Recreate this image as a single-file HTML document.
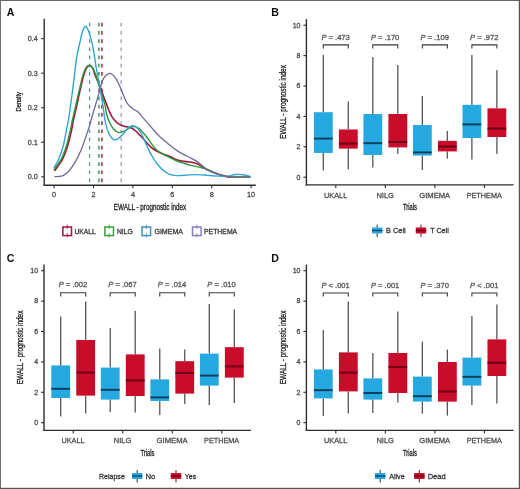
<!DOCTYPE html>
<html><head><meta charset="utf-8"><title>EWALL figure</title>
<style>
html,body{margin:0;padding:0;background:#fff;}
body{width:520px;height:489px;overflow:hidden;}
svg{display:block;font-family:"Liberation Sans",sans-serif;}
</style></head>
<body>
<svg width="520" height="489" viewBox="0 0 520 489">
<defs><filter id="bl" x="-5%" y="-5%" width="110%" height="110%"><feGaussianBlur stdDeviation="0.35"/></filter></defs>
<rect x="0" y="0" width="520" height="489" fill="#fff"/>
<g filter="url(#bl)">
<text x="6.8" y="15.8" font-size="10.6" font-weight="bold" fill="#111">A</text>
<text x="271.2" y="15.9" font-size="10.6" font-weight="bold" fill="#111">B</text>
<text x="6.8" y="261.6" font-size="10.6" font-weight="bold" fill="#111">C</text>
<text x="271.2" y="261.6" font-size="10.6" font-weight="bold" fill="#111">D</text>
<line x1="89.60" y1="22.80" x2="89.60" y2="184.20" stroke="#3f7fa8" stroke-width="1.2" stroke-dasharray="3.7,4.5" opacity="0.9"/>
<line x1="98.90" y1="22.80" x2="98.90" y2="184.20" stroke="#5f9766" stroke-width="1.8" stroke-dasharray="3.7,4.5" opacity="0.9"/>
<line x1="101.90" y1="22.80" x2="101.90" y2="184.20" stroke="#a03c4c" stroke-width="1.8" stroke-dasharray="3.7,4.5" opacity="0.9"/>
<line x1="121.20" y1="22.80" x2="121.20" y2="184.20" stroke="#a39cb4" stroke-width="1.5" stroke-dasharray="3.7,4.5" opacity="0.9"/>
<path d="M54.40,170.90 C55.73,168.97 60.25,163.28 62.40,159.30 C64.55,155.32 65.77,151.92 67.30,147.00 C68.83,142.08 70.58,134.30 71.60,129.80 C72.62,125.30 72.63,123.63 73.40,120.00 C74.17,116.37 75.10,112.92 76.20,108.00 C77.30,103.08 78.77,95.92 80.00,90.50 C81.23,85.08 82.50,79.28 83.60,75.50 C84.70,71.72 85.62,69.47 86.60,67.80 C87.58,66.13 88.50,65.50 89.50,65.50 C90.50,65.50 91.70,66.27 92.60,67.80 C93.50,69.33 93.70,71.70 94.90,74.70 C96.10,77.70 98.42,82.33 99.80,85.80 C101.18,89.27 102.08,92.47 103.20,95.50 C104.32,98.53 105.55,101.50 106.50,104.00 C107.45,106.50 107.95,108.32 108.90,110.50 C109.85,112.68 110.97,115.18 112.20,117.10 C113.43,119.02 114.93,120.70 116.30,122.00 C117.67,123.30 118.90,124.15 120.40,124.90 C121.90,125.65 123.45,125.98 125.30,126.50 C127.15,127.02 129.77,127.25 131.50,128.00 C133.23,128.75 134.38,129.88 135.70,131.00 C137.02,132.12 138.18,133.47 139.40,134.70 C140.62,135.93 141.78,137.05 143.00,138.40 C144.22,139.75 145.47,141.45 146.70,142.80 C147.93,144.15 149.17,145.38 150.40,146.50 C151.63,147.62 152.57,148.48 154.10,149.50 C155.63,150.52 157.87,151.75 159.60,152.60 C161.33,153.45 162.77,153.93 164.50,154.60 C166.23,155.27 167.90,155.70 170.00,156.60 C172.10,157.50 174.70,159.20 177.10,160.00 C179.50,160.80 181.95,161.03 184.40,161.40 C186.85,161.77 189.33,161.65 191.80,162.20 C194.27,162.75 196.75,163.53 199.20,164.70 C201.65,165.87 203.73,167.77 206.50,169.20 C209.27,170.63 212.72,172.15 215.80,173.30 C218.88,174.45 222.47,175.47 225.00,176.10 C227.53,176.73 228.33,176.92 231.00,177.10 C233.67,177.28 237.77,177.22 241.00,177.20 C244.23,177.18 248.83,177.03 250.40,177.00" fill="none" stroke="#a0143a" stroke-width="1.6" stroke-linejoin="round"/>
<path d="M53.80,169.70 C55.03,167.97 59.15,163.08 61.20,159.30 C63.25,155.52 64.57,151.92 66.10,147.00 C67.63,142.08 69.35,134.30 70.40,129.80 C71.45,125.30 71.60,123.63 72.40,120.00 C73.20,116.37 74.07,112.92 75.20,108.00 C76.33,103.08 77.90,96.00 79.20,90.50 C80.50,85.00 81.83,78.83 83.00,75.00 C84.17,71.17 85.17,69.12 86.20,67.50 C87.23,65.88 88.18,65.30 89.20,65.30 C90.22,65.30 91.25,66.05 92.30,67.50 C93.35,68.95 94.47,71.25 95.50,74.00 C96.53,76.75 97.42,80.33 98.50,84.00 C99.58,87.67 100.95,92.67 102.00,96.00 C103.05,99.33 104.05,101.03 104.80,104.00 C105.55,106.97 105.68,110.67 106.50,113.80 C107.32,116.93 108.48,120.22 109.70,122.80 C110.92,125.38 112.30,127.67 113.80,129.30 C115.30,130.93 117.07,132.25 118.70,132.60 C120.33,132.95 121.97,132.08 123.60,131.40 C125.23,130.72 126.93,129.30 128.50,128.50 C130.07,127.70 131.32,126.67 133.00,126.60 C134.68,126.53 136.93,127.12 138.60,128.10 C140.27,129.08 141.65,131.02 143.00,132.50 C144.35,133.98 145.47,135.40 146.70,137.00 C147.93,138.60 149.17,140.40 150.40,142.10 C151.63,143.80 153.00,145.85 154.10,147.20 C155.20,148.55 155.80,149.23 157.00,150.20 C158.20,151.17 159.93,152.15 161.30,153.00 C162.67,153.85 163.75,154.53 165.20,155.30 C166.65,156.07 168.02,156.65 170.00,157.60 C171.98,158.55 174.70,160.02 177.10,161.00 C179.50,161.98 181.95,162.73 184.40,163.50 C186.85,164.27 189.33,165.00 191.80,165.60 C194.27,166.20 196.75,166.50 199.20,167.10 C201.65,167.70 203.73,168.17 206.50,169.20 C209.27,170.23 212.72,172.15 215.80,173.30 C218.88,174.45 222.47,175.47 225.00,176.10 C227.53,176.73 228.33,176.92 231.00,177.10 C233.67,177.28 237.77,177.22 241.00,177.20 C244.23,177.18 248.83,177.03 250.40,177.00" fill="none" stroke="#309439" stroke-width="1.4" stroke-linejoin="round"/>
<path d="M53.80,168.10 C54.62,166.63 57.07,163.23 58.70,159.30 C60.33,155.37 62.25,149.72 63.60,144.50 C64.95,139.28 65.93,132.42 66.80,128.00 C67.67,123.58 67.93,123.50 68.80,118.00 C69.67,112.50 71.05,102.17 72.00,95.00 C72.95,87.83 73.78,80.83 74.50,75.00 C75.22,69.17 75.73,63.98 76.30,60.00 C76.87,56.02 77.28,54.08 77.90,51.10 C78.52,48.12 79.32,45.10 80.00,42.10 C80.68,39.10 81.18,35.68 82.00,33.10 C82.82,30.52 84.07,27.48 84.90,26.60 C85.73,25.72 86.32,26.85 87.00,27.80 C87.68,28.75 88.33,30.45 89.00,32.30 C89.67,34.15 90.32,36.30 91.00,38.90 C91.68,41.50 92.48,44.77 93.10,47.90 C93.72,51.03 94.12,54.02 94.70,57.70 C95.28,61.38 95.95,66.13 96.60,70.00 C97.25,73.87 97.65,75.62 98.60,80.90 C99.55,86.18 101.27,95.40 102.30,101.70 C103.33,108.00 104.10,114.50 104.80,118.70 C105.50,122.90 105.68,124.17 106.50,126.90 C107.32,129.63 108.48,132.98 109.70,135.10 C110.92,137.22 112.43,138.98 113.80,139.60 C115.17,140.22 116.40,139.68 117.90,138.80 C119.40,137.92 121.17,136.02 122.80,134.30 C124.43,132.58 126.20,129.93 127.70,128.50 C129.20,127.07 130.47,126.02 131.80,125.70 C133.13,125.38 134.57,125.95 135.70,126.60 C136.83,127.25 137.75,128.62 138.60,129.60 C139.45,130.58 140.07,131.27 140.80,132.50 C141.53,133.73 142.25,135.40 143.00,137.00 C143.75,138.60 144.55,140.40 145.30,142.10 C146.05,143.80 146.77,145.60 147.50,147.20 C148.23,148.80 148.90,150.15 149.70,151.70 C150.50,153.25 151.18,154.62 152.30,156.50 C153.42,158.38 154.90,161.00 156.40,163.00 C157.90,165.00 159.90,167.08 161.30,168.50 C162.70,169.92 163.42,170.52 164.80,171.50 C166.18,172.48 168.00,173.75 169.60,174.40 C171.20,175.05 172.80,175.20 174.40,175.40 C176.00,175.60 176.80,175.68 179.20,175.60 C181.60,175.52 185.58,175.07 188.80,174.90 C192.02,174.73 195.30,174.52 198.50,174.60 C201.70,174.68 204.75,175.15 208.00,175.40 C211.25,175.65 215.17,175.93 218.00,176.10 C220.83,176.27 223.07,176.43 225.00,176.40 C226.93,176.37 227.87,176.22 229.60,175.90 C231.33,175.58 233.10,174.68 235.40,174.50 C237.70,174.32 240.90,174.45 243.40,174.80 C245.90,175.15 249.23,176.30 250.40,176.60" fill="none" stroke="#31a4d8" stroke-width="1.4" stroke-linejoin="round"/>
<path d="M54.40,176.70 C55.73,176.55 60.05,176.67 62.40,175.80 C64.75,174.93 66.45,173.65 68.50,171.50 C70.55,169.35 72.65,166.37 74.70,162.90 C76.75,159.43 78.97,154.98 80.80,150.70 C82.63,146.42 84.27,141.30 85.70,137.20 C87.13,133.10 88.38,129.35 89.40,126.10 C90.42,122.85 90.98,120.55 91.80,117.70 C92.62,114.85 93.17,112.88 94.30,109.00 C95.43,105.12 97.27,99.08 98.60,94.40 C99.93,89.72 101.15,83.97 102.30,80.90 C103.45,77.83 104.28,77.27 105.50,76.00 C106.72,74.73 108.38,73.47 109.60,73.30 C110.82,73.13 111.77,74.15 112.80,75.00 C113.83,75.85 114.48,76.20 115.80,78.40 C117.12,80.60 119.07,84.52 120.70,88.20 C122.33,91.88 124.30,97.73 125.60,100.50 C126.90,103.27 127.60,103.67 128.50,104.80 C129.40,105.93 130.08,106.48 131.00,107.30 C131.92,108.12 132.85,108.95 134.00,109.70 C135.15,110.45 136.20,110.22 137.90,111.80 C139.60,113.38 141.72,116.33 144.20,119.20 C146.68,122.07 150.25,126.13 152.80,129.00 C155.35,131.87 157.90,134.75 159.50,136.40 C161.10,138.05 160.70,137.47 162.40,138.90 C164.10,140.33 167.25,143.05 169.70,145.00 C172.15,146.95 174.65,148.95 177.10,150.60 C179.55,152.25 181.95,153.57 184.40,154.90 C186.85,156.23 189.33,157.27 191.80,158.60 C194.27,159.93 196.75,161.10 199.20,162.90 C201.65,164.70 203.73,167.62 206.50,169.40 C209.27,171.18 212.72,172.47 215.80,173.60 C218.88,174.73 222.47,175.62 225.00,176.20 C227.53,176.78 228.33,176.93 231.00,177.10 C233.67,177.27 237.77,177.22 241.00,177.20 C244.23,177.18 248.83,177.03 250.40,177.00" fill="none" stroke="#6f6a9c" stroke-width="1.3" stroke-linejoin="round"/>
<line x1="44.20" y1="18.80" x2="44.20" y2="185.80" stroke="#2e2e2e" stroke-width="1.4"/>
<line x1="43.60" y1="185.20" x2="255.80" y2="185.20" stroke="#2e2e2e" stroke-width="1.4"/>
<line x1="41.20" y1="176.80" x2="44.20" y2="176.80" stroke="#2e2e2e" stroke-width="1.1"/>
<text x="37.80" y="179.40" font-size="7.4" fill="#4a4a4a" stroke="#4a4a4a" stroke-width="0.28" text-anchor="end" textLength="10.00" lengthAdjust="spacingAndGlyphs">0.0</text>
<line x1="41.20" y1="142.25" x2="44.20" y2="142.25" stroke="#2e2e2e" stroke-width="1.1"/>
<text x="37.80" y="144.85" font-size="7.4" fill="#4a4a4a" stroke="#4a4a4a" stroke-width="0.28" text-anchor="end" textLength="10.00" lengthAdjust="spacingAndGlyphs">0.1</text>
<line x1="41.20" y1="107.70" x2="44.20" y2="107.70" stroke="#2e2e2e" stroke-width="1.1"/>
<text x="37.80" y="110.30" font-size="7.4" fill="#4a4a4a" stroke="#4a4a4a" stroke-width="0.28" text-anchor="end" textLength="10.00" lengthAdjust="spacingAndGlyphs">0.2</text>
<line x1="41.20" y1="73.15" x2="44.20" y2="73.15" stroke="#2e2e2e" stroke-width="1.1"/>
<text x="37.80" y="75.75" font-size="7.4" fill="#4a4a4a" stroke="#4a4a4a" stroke-width="0.28" text-anchor="end" textLength="10.00" lengthAdjust="spacingAndGlyphs">0.3</text>
<line x1="41.20" y1="38.60" x2="44.20" y2="38.60" stroke="#2e2e2e" stroke-width="1.1"/>
<text x="37.80" y="41.20" font-size="7.4" fill="#4a4a4a" stroke="#4a4a4a" stroke-width="0.28" text-anchor="end" textLength="10.00" lengthAdjust="spacingAndGlyphs">0.4</text>
<line x1="54.10" y1="185.20" x2="54.10" y2="188.20" stroke="#2e2e2e" stroke-width="1.1"/>
<text x="54.10" y="197.40" font-size="7.8" fill="#4a4a4a" stroke="#4a4a4a" stroke-width="0.28" text-anchor="middle" textLength="4.03" lengthAdjust="spacingAndGlyphs">0</text>
<line x1="93.50" y1="185.20" x2="93.50" y2="188.20" stroke="#2e2e2e" stroke-width="1.1"/>
<text x="93.50" y="197.40" font-size="7.8" fill="#4a4a4a" stroke="#4a4a4a" stroke-width="0.28" text-anchor="middle" textLength="4.03" lengthAdjust="spacingAndGlyphs">2</text>
<line x1="132.90" y1="185.20" x2="132.90" y2="188.20" stroke="#2e2e2e" stroke-width="1.1"/>
<text x="132.90" y="197.40" font-size="7.8" fill="#4a4a4a" stroke="#4a4a4a" stroke-width="0.28" text-anchor="middle" textLength="4.03" lengthAdjust="spacingAndGlyphs">4</text>
<line x1="172.30" y1="185.20" x2="172.30" y2="188.20" stroke="#2e2e2e" stroke-width="1.1"/>
<text x="172.30" y="197.40" font-size="7.8" fill="#4a4a4a" stroke="#4a4a4a" stroke-width="0.28" text-anchor="middle" textLength="4.03" lengthAdjust="spacingAndGlyphs">6</text>
<line x1="211.70" y1="185.20" x2="211.70" y2="188.20" stroke="#2e2e2e" stroke-width="1.1"/>
<text x="211.70" y="197.40" font-size="7.8" fill="#4a4a4a" stroke="#4a4a4a" stroke-width="0.28" text-anchor="middle" textLength="4.03" lengthAdjust="spacingAndGlyphs">8</text>
<line x1="251.10" y1="185.20" x2="251.10" y2="188.20" stroke="#2e2e2e" stroke-width="1.1"/>
<text x="251.10" y="197.40" font-size="7.8" fill="#4a4a4a" stroke="#4a4a4a" stroke-width="0.28" text-anchor="middle" textLength="8.07" lengthAdjust="spacingAndGlyphs">10</text>
<text x="150.00" y="210.30" font-size="8.5" fill="#1a1a1a" stroke="#1a1a1a" stroke-width="0.28" text-anchor="middle" textLength="72.40" lengthAdjust="spacingAndGlyphs">EWALL - prognostic index</text>
<text transform="translate(21.4,101.8) rotate(-90)" x="0" y="0" font-size="7.2" fill="#1a1a1a" stroke="#1a1a1a" stroke-width="0.28" text-anchor="middle" textLength="19.6" lengthAdjust="spacingAndGlyphs">Density</text>
<rect x="62.90" y="227.0" width="8.6" height="8.6" fill="none" stroke="#a8123c" stroke-width="1.5"/>
<line x1="67.20" y1="224.60" x2="67.20" y2="237.40" stroke="#a8123c" stroke-width="1.0" stroke-dasharray="4.4,4.2,6" opacity="0.85"/>
<text x="74.40" y="233.70" font-size="7.4" fill="#333" stroke="#333" stroke-width="0.28" text-anchor="start" textLength="21.30" lengthAdjust="spacingAndGlyphs">UKALL</text>
<rect x="104.90" y="227.0" width="8.6" height="8.6" fill="none" stroke="#3a9e3e" stroke-width="1.5"/>
<line x1="109.20" y1="224.60" x2="109.20" y2="237.40" stroke="#3a9e3e" stroke-width="1.0" stroke-dasharray="4.4,4.2,6" opacity="0.85"/>
<text x="116.90" y="233.70" font-size="7.4" fill="#333" stroke="#333" stroke-width="0.28" text-anchor="start" textLength="15.80" lengthAdjust="spacingAndGlyphs">NILG</text>
<rect x="142.00" y="227.0" width="8.6" height="8.6" fill="none" stroke="#3a93c0" stroke-width="1.5"/>
<line x1="146.30" y1="224.60" x2="146.30" y2="237.40" stroke="#3a93c0" stroke-width="1.0" stroke-dasharray="4.4,4.2,6" opacity="0.85"/>
<text x="154.40" y="233.70" font-size="7.4" fill="#333" stroke="#333" stroke-width="0.28" text-anchor="start" textLength="28.70" lengthAdjust="spacingAndGlyphs">GIMEMA</text>
<rect x="192.50" y="227.0" width="8.6" height="8.6" fill="none" stroke="#8a80c0" stroke-width="1.5"/>
<line x1="196.80" y1="224.60" x2="196.80" y2="237.40" stroke="#8a80c0" stroke-width="1.0" stroke-dasharray="4.4,4.2,6" opacity="0.85"/>
<text x="204.00" y="233.70" font-size="7.4" fill="#333" stroke="#333" stroke-width="0.28" text-anchor="start" textLength="33.20" lengthAdjust="spacingAndGlyphs">PETHEMA</text>
<line x1="323.30" y1="55.00" x2="323.30" y2="112.20" stroke="#555555" stroke-width="1.3"/>
<line x1="323.30" y1="153.00" x2="323.30" y2="170.40" stroke="#555555" stroke-width="1.3"/>
<rect x="313.90" y="112.20" width="18.8" height="40.80" fill="#28a8e0"/>
<line x1="313.90" y1="138.60" x2="332.70" y2="138.60" stroke="#0b3d5c" stroke-width="1.9"/>
<line x1="348.30" y1="101.60" x2="348.30" y2="129.50" stroke="#555555" stroke-width="1.3"/>
<line x1="348.30" y1="148.60" x2="348.30" y2="169.60" stroke="#555555" stroke-width="1.3"/>
<rect x="338.90" y="129.50" width="18.8" height="19.10" fill="#c8082a"/>
<line x1="338.90" y1="143.60" x2="357.70" y2="143.60" stroke="#6e0414" stroke-width="1.9"/>
<path d="M323.30,48.50 V44.90 H348.30 V48.50" fill="none" stroke="#3a3a3a" stroke-width="1.1"/>
<text x="335.60" y="40.40" font-size="7.0" fill="#555" stroke="#555" stroke-width="0.28" text-anchor="middle" textLength="28.4" lengthAdjust="spacingAndGlyphs"><tspan font-style="italic">P</tspan> = .473</text>
<line x1="372.83" y1="57.00" x2="372.83" y2="114.00" stroke="#555555" stroke-width="1.3"/>
<line x1="372.83" y1="155.00" x2="372.83" y2="167.60" stroke="#555555" stroke-width="1.3"/>
<rect x="363.43" y="114.00" width="18.8" height="41.00" fill="#28a8e0"/>
<line x1="363.43" y1="143.20" x2="382.23" y2="143.20" stroke="#0b3d5c" stroke-width="1.9"/>
<line x1="397.83" y1="65.00" x2="397.83" y2="114.00" stroke="#555555" stroke-width="1.3"/>
<line x1="397.83" y1="147.40" x2="397.83" y2="154.00" stroke="#555555" stroke-width="1.3"/>
<rect x="388.43" y="114.00" width="18.8" height="33.40" fill="#c8082a"/>
<line x1="388.43" y1="142.00" x2="407.23" y2="142.00" stroke="#6e0414" stroke-width="1.9"/>
<path d="M372.83,48.50 V44.90 H397.83 V48.50" fill="none" stroke="#3a3a3a" stroke-width="1.1"/>
<text x="385.13" y="40.40" font-size="7.0" fill="#555" stroke="#555" stroke-width="0.28" text-anchor="middle" textLength="28.4" lengthAdjust="spacingAndGlyphs"><tspan font-style="italic">P</tspan> = .170</text>
<line x1="422.36" y1="96.00" x2="422.36" y2="125.00" stroke="#555555" stroke-width="1.3"/>
<line x1="422.36" y1="155.60" x2="422.36" y2="170.00" stroke="#555555" stroke-width="1.3"/>
<rect x="412.96" y="125.00" width="18.8" height="30.60" fill="#28a8e0"/>
<line x1="412.96" y1="152.40" x2="431.76" y2="152.40" stroke="#0b3d5c" stroke-width="1.9"/>
<line x1="447.36" y1="131.00" x2="447.36" y2="140.80" stroke="#555555" stroke-width="1.3"/>
<line x1="447.36" y1="151.40" x2="447.36" y2="158.60" stroke="#555555" stroke-width="1.3"/>
<rect x="437.96" y="140.80" width="18.8" height="10.60" fill="#c8082a"/>
<line x1="437.96" y1="146.40" x2="456.76" y2="146.40" stroke="#6e0414" stroke-width="1.9"/>
<path d="M422.36,48.50 V44.90 H447.36 V48.50" fill="none" stroke="#3a3a3a" stroke-width="1.1"/>
<text x="434.66" y="40.40" font-size="7.0" fill="#555" stroke="#555" stroke-width="0.28" text-anchor="middle" textLength="28.4" lengthAdjust="spacingAndGlyphs"><tspan font-style="italic">P</tspan> = .109</text>
<line x1="471.89" y1="55.00" x2="471.89" y2="104.80" stroke="#555555" stroke-width="1.3"/>
<line x1="471.89" y1="138.00" x2="471.89" y2="159.60" stroke="#555555" stroke-width="1.3"/>
<rect x="462.49" y="104.80" width="18.8" height="33.20" fill="#28a8e0"/>
<line x1="462.49" y1="124.40" x2="481.29" y2="124.40" stroke="#0b3d5c" stroke-width="1.9"/>
<line x1="496.89" y1="70.00" x2="496.89" y2="108.40" stroke="#555555" stroke-width="1.3"/>
<line x1="496.89" y1="137.00" x2="496.89" y2="154.00" stroke="#555555" stroke-width="1.3"/>
<rect x="487.49" y="108.40" width="18.8" height="28.60" fill="#c8082a"/>
<line x1="487.49" y1="128.60" x2="506.29" y2="128.60" stroke="#6e0414" stroke-width="1.9"/>
<path d="M471.89,48.50 V44.90 H496.89 V48.50" fill="none" stroke="#3a3a3a" stroke-width="1.1"/>
<text x="484.19" y="40.40" font-size="7.0" fill="#555" stroke="#555" stroke-width="0.28" text-anchor="middle" textLength="28.4" lengthAdjust="spacingAndGlyphs"><tspan font-style="italic">P</tspan> = .972</text>
<line x1="306.40" y1="19.10" x2="306.40" y2="185.50" stroke="#2e2e2e" stroke-width="1.4"/>
<line x1="305.80" y1="184.90" x2="513.60" y2="184.90" stroke="#2e2e2e" stroke-width="1.4"/>
<line x1="303.40" y1="177.20" x2="306.40" y2="177.20" stroke="#2e2e2e" stroke-width="1.1"/>
<text x="300.50" y="179.50" font-size="7.4" fill="#4a4a4a" stroke="#4a4a4a" stroke-width="0.28" text-anchor="end" textLength="3.91" lengthAdjust="spacingAndGlyphs">0</text>
<line x1="303.40" y1="146.80" x2="306.40" y2="146.80" stroke="#2e2e2e" stroke-width="1.1"/>
<text x="300.50" y="149.10" font-size="7.4" fill="#4a4a4a" stroke="#4a4a4a" stroke-width="0.28" text-anchor="end" textLength="3.91" lengthAdjust="spacingAndGlyphs">2</text>
<line x1="303.40" y1="116.40" x2="306.40" y2="116.40" stroke="#2e2e2e" stroke-width="1.1"/>
<text x="300.50" y="118.70" font-size="7.4" fill="#4a4a4a" stroke="#4a4a4a" stroke-width="0.28" text-anchor="end" textLength="3.91" lengthAdjust="spacingAndGlyphs">4</text>
<line x1="303.40" y1="86.00" x2="306.40" y2="86.00" stroke="#2e2e2e" stroke-width="1.1"/>
<text x="300.50" y="88.30" font-size="7.4" fill="#4a4a4a" stroke="#4a4a4a" stroke-width="0.28" text-anchor="end" textLength="3.91" lengthAdjust="spacingAndGlyphs">6</text>
<line x1="303.40" y1="55.60" x2="306.40" y2="55.60" stroke="#2e2e2e" stroke-width="1.1"/>
<text x="300.50" y="57.90" font-size="7.4" fill="#4a4a4a" stroke="#4a4a4a" stroke-width="0.28" text-anchor="end" textLength="3.91" lengthAdjust="spacingAndGlyphs">8</text>
<line x1="303.40" y1="25.20" x2="306.40" y2="25.20" stroke="#2e2e2e" stroke-width="1.1"/>
<text x="300.50" y="27.50" font-size="7.4" fill="#4a4a4a" stroke="#4a4a4a" stroke-width="0.28" text-anchor="end" textLength="7.82" lengthAdjust="spacingAndGlyphs">10</text>
<line x1="335.80" y1="184.90" x2="335.80" y2="187.90" stroke="#2e2e2e" stroke-width="1.1"/>
<text x="335.65" y="197.80" font-size="8.0" fill="#4a4a4a" stroke="#4a4a4a" stroke-width="0.28" text-anchor="middle" textLength="23.10" lengthAdjust="spacingAndGlyphs">UKALL</text>
<line x1="385.33" y1="184.90" x2="385.33" y2="187.90" stroke="#2e2e2e" stroke-width="1.1"/>
<text x="385.18" y="197.80" font-size="8.0" fill="#4a4a4a" stroke="#4a4a4a" stroke-width="0.28" text-anchor="middle" textLength="17.50" lengthAdjust="spacingAndGlyphs">NILG</text>
<line x1="434.86" y1="184.90" x2="434.86" y2="187.90" stroke="#2e2e2e" stroke-width="1.1"/>
<text x="434.71" y="197.80" font-size="8.0" fill="#4a4a4a" stroke="#4a4a4a" stroke-width="0.28" text-anchor="middle" textLength="31.00" lengthAdjust="spacingAndGlyphs">GIMEMA</text>
<line x1="484.39" y1="184.90" x2="484.39" y2="187.90" stroke="#2e2e2e" stroke-width="1.1"/>
<text x="484.24" y="197.80" font-size="8.0" fill="#4a4a4a" stroke="#4a4a4a" stroke-width="0.28" text-anchor="middle" textLength="35.10" lengthAdjust="spacingAndGlyphs">PETHEMA</text>
<text x="410.00" y="210.20" font-size="8.5" fill="#1a1a1a" stroke="#1a1a1a" stroke-width="0.28" text-anchor="middle" textLength="14.00" lengthAdjust="spacingAndGlyphs">Trials</text>
<text transform="translate(286.00,101.90) rotate(-90)" x="0" y="0" font-size="8.5" fill="#1a1a1a" stroke="#1a1a1a" stroke-width="0.28" text-anchor="middle" textLength="73.5" lengthAdjust="spacingAndGlyphs">EWALL - prognostic index</text>
<line x1="377.20" y1="224.60" x2="377.20" y2="237.00" stroke="#555555" stroke-width="1.2"/>
<rect x="372.00" y="227.50" width="10.4" height="6.0" fill="#28a8e0"/>
<line x1="372.00" y1="230.50" x2="382.40" y2="230.50" stroke="#0b3d5c" stroke-width="1.3"/>
<text x="386.00" y="233.40" font-size="7.6" fill="#333" stroke="#333" stroke-width="0.28" text-anchor="start" textLength="19.70" lengthAdjust="spacingAndGlyphs">B Cell</text>
<line x1="421.00" y1="224.60" x2="421.00" y2="237.00" stroke="#555555" stroke-width="1.2"/>
<rect x="415.80" y="227.50" width="10.4" height="6.0" fill="#c8082a"/>
<line x1="415.80" y1="230.50" x2="426.20" y2="230.50" stroke="#6e0414" stroke-width="1.3"/>
<text x="430.20" y="233.40" font-size="7.6" fill="#333" stroke="#333" stroke-width="0.28" text-anchor="start" textLength="18.60" lengthAdjust="spacingAndGlyphs">T Cell</text>
<line x1="60.70" y1="316.60" x2="60.70" y2="365.40" stroke="#555555" stroke-width="1.3"/>
<line x1="60.70" y1="398.00" x2="60.70" y2="416.60" stroke="#555555" stroke-width="1.3"/>
<rect x="51.30" y="365.40" width="18.8" height="32.60" fill="#28a8e0"/>
<line x1="51.30" y1="388.80" x2="70.10" y2="388.80" stroke="#0b3d5c" stroke-width="1.9"/>
<line x1="85.70" y1="301.60" x2="85.70" y2="340.00" stroke="#555555" stroke-width="1.3"/>
<line x1="85.70" y1="395.60" x2="85.70" y2="413.60" stroke="#555555" stroke-width="1.3"/>
<rect x="76.30" y="340.00" width="18.8" height="55.60" fill="#c8082a"/>
<line x1="76.30" y1="372.60" x2="95.10" y2="372.60" stroke="#6e0414" stroke-width="1.9"/>
<path d="M60.70,296.40 V292.80 H85.70 V296.40" fill="none" stroke="#3a3a3a" stroke-width="1.1"/>
<text x="73.00" y="287.40" font-size="7.0" fill="#555" stroke="#555" stroke-width="0.28" text-anchor="middle" textLength="28.4" lengthAdjust="spacingAndGlyphs"><tspan font-style="italic">P</tspan> = .002</text>
<line x1="110.23" y1="328.00" x2="110.23" y2="367.60" stroke="#555555" stroke-width="1.3"/>
<line x1="110.23" y1="399.60" x2="110.23" y2="412.00" stroke="#555555" stroke-width="1.3"/>
<rect x="100.83" y="367.60" width="18.8" height="32.00" fill="#28a8e0"/>
<line x1="100.83" y1="389.80" x2="119.63" y2="389.80" stroke="#0b3d5c" stroke-width="1.9"/>
<line x1="135.23" y1="311.00" x2="135.23" y2="354.40" stroke="#555555" stroke-width="1.3"/>
<line x1="135.23" y1="396.00" x2="135.23" y2="412.40" stroke="#555555" stroke-width="1.3"/>
<rect x="125.83" y="354.40" width="18.8" height="41.60" fill="#c8082a"/>
<line x1="125.83" y1="380.40" x2="144.63" y2="380.40" stroke="#6e0414" stroke-width="1.9"/>
<path d="M110.23,296.40 V292.80 H135.23 V296.40" fill="none" stroke="#3a3a3a" stroke-width="1.1"/>
<text x="122.53" y="287.40" font-size="7.0" fill="#555" stroke="#555" stroke-width="0.28" text-anchor="middle" textLength="28.4" lengthAdjust="spacingAndGlyphs"><tspan font-style="italic">P</tspan> = .067</text>
<line x1="159.76" y1="348.40" x2="159.76" y2="379.40" stroke="#555555" stroke-width="1.3"/>
<line x1="159.76" y1="401.00" x2="159.76" y2="415.00" stroke="#555555" stroke-width="1.3"/>
<rect x="150.36" y="379.40" width="18.8" height="21.60" fill="#28a8e0"/>
<line x1="150.36" y1="397.40" x2="169.16" y2="397.40" stroke="#0b3d5c" stroke-width="1.9"/>
<line x1="184.76" y1="349.60" x2="184.76" y2="361.20" stroke="#555555" stroke-width="1.3"/>
<line x1="184.76" y1="393.60" x2="184.76" y2="404.00" stroke="#555555" stroke-width="1.3"/>
<rect x="175.36" y="361.20" width="18.8" height="32.40" fill="#c8082a"/>
<line x1="175.36" y1="373.00" x2="194.16" y2="373.00" stroke="#6e0414" stroke-width="1.9"/>
<path d="M159.76,296.40 V292.80 H184.76 V296.40" fill="none" stroke="#3a3a3a" stroke-width="1.1"/>
<text x="172.06" y="287.40" font-size="7.0" fill="#555" stroke="#555" stroke-width="0.28" text-anchor="middle" textLength="28.4" lengthAdjust="spacingAndGlyphs"><tspan font-style="italic">P</tspan> = .014</text>
<line x1="209.29" y1="304.00" x2="209.29" y2="353.60" stroke="#555555" stroke-width="1.3"/>
<line x1="209.29" y1="385.60" x2="209.29" y2="405.00" stroke="#555555" stroke-width="1.3"/>
<rect x="199.89" y="353.60" width="18.8" height="32.00" fill="#28a8e0"/>
<line x1="199.89" y1="375.60" x2="218.69" y2="375.60" stroke="#0b3d5c" stroke-width="1.9"/>
<line x1="234.29" y1="309.40" x2="234.29" y2="347.20" stroke="#555555" stroke-width="1.3"/>
<line x1="234.29" y1="377.60" x2="234.29" y2="403.00" stroke="#555555" stroke-width="1.3"/>
<rect x="224.89" y="347.20" width="18.8" height="30.40" fill="#c8082a"/>
<line x1="224.89" y1="366.40" x2="243.69" y2="366.40" stroke="#6e0414" stroke-width="1.9"/>
<path d="M209.29,296.40 V292.80 H234.29 V296.40" fill="none" stroke="#3a3a3a" stroke-width="1.1"/>
<text x="221.59" y="287.40" font-size="7.0" fill="#555" stroke="#555" stroke-width="0.28" text-anchor="middle" textLength="28.4" lengthAdjust="spacingAndGlyphs"><tspan font-style="italic">P</tspan> = .010</text>
<line x1="44.00" y1="264.60" x2="44.00" y2="431.00" stroke="#2e2e2e" stroke-width="1.4"/>
<line x1="43.40" y1="430.40" x2="251.00" y2="430.40" stroke="#2e2e2e" stroke-width="1.4"/>
<line x1="41.00" y1="422.70" x2="44.00" y2="422.70" stroke="#2e2e2e" stroke-width="1.1"/>
<text x="38.10" y="425.00" font-size="7.4" fill="#4a4a4a" stroke="#4a4a4a" stroke-width="0.28" text-anchor="end" textLength="3.91" lengthAdjust="spacingAndGlyphs">0</text>
<line x1="41.00" y1="392.30" x2="44.00" y2="392.30" stroke="#2e2e2e" stroke-width="1.1"/>
<text x="38.10" y="394.60" font-size="7.4" fill="#4a4a4a" stroke="#4a4a4a" stroke-width="0.28" text-anchor="end" textLength="3.91" lengthAdjust="spacingAndGlyphs">2</text>
<line x1="41.00" y1="361.90" x2="44.00" y2="361.90" stroke="#2e2e2e" stroke-width="1.1"/>
<text x="38.10" y="364.20" font-size="7.4" fill="#4a4a4a" stroke="#4a4a4a" stroke-width="0.28" text-anchor="end" textLength="3.91" lengthAdjust="spacingAndGlyphs">4</text>
<line x1="41.00" y1="331.50" x2="44.00" y2="331.50" stroke="#2e2e2e" stroke-width="1.1"/>
<text x="38.10" y="333.80" font-size="7.4" fill="#4a4a4a" stroke="#4a4a4a" stroke-width="0.28" text-anchor="end" textLength="3.91" lengthAdjust="spacingAndGlyphs">6</text>
<line x1="41.00" y1="301.10" x2="44.00" y2="301.10" stroke="#2e2e2e" stroke-width="1.1"/>
<text x="38.10" y="303.40" font-size="7.4" fill="#4a4a4a" stroke="#4a4a4a" stroke-width="0.28" text-anchor="end" textLength="3.91" lengthAdjust="spacingAndGlyphs">8</text>
<line x1="41.00" y1="270.70" x2="44.00" y2="270.70" stroke="#2e2e2e" stroke-width="1.1"/>
<text x="38.10" y="273.00" font-size="7.4" fill="#4a4a4a" stroke="#4a4a4a" stroke-width="0.28" text-anchor="end" textLength="7.82" lengthAdjust="spacingAndGlyphs">10</text>
<line x1="73.20" y1="430.40" x2="73.20" y2="433.40" stroke="#2e2e2e" stroke-width="1.1"/>
<text x="73.05" y="443.30" font-size="8.0" fill="#4a4a4a" stroke="#4a4a4a" stroke-width="0.28" text-anchor="middle" textLength="23.10" lengthAdjust="spacingAndGlyphs">UKALL</text>
<line x1="122.73" y1="430.40" x2="122.73" y2="433.40" stroke="#2e2e2e" stroke-width="1.1"/>
<text x="122.58" y="443.30" font-size="8.0" fill="#4a4a4a" stroke="#4a4a4a" stroke-width="0.28" text-anchor="middle" textLength="17.50" lengthAdjust="spacingAndGlyphs">NILG</text>
<line x1="172.26" y1="430.40" x2="172.26" y2="433.40" stroke="#2e2e2e" stroke-width="1.1"/>
<text x="172.11" y="443.30" font-size="8.0" fill="#4a4a4a" stroke="#4a4a4a" stroke-width="0.28" text-anchor="middle" textLength="31.00" lengthAdjust="spacingAndGlyphs">GIMEMA</text>
<line x1="221.79" y1="430.40" x2="221.79" y2="433.40" stroke="#2e2e2e" stroke-width="1.1"/>
<text x="221.64" y="443.30" font-size="8.0" fill="#4a4a4a" stroke="#4a4a4a" stroke-width="0.28" text-anchor="middle" textLength="35.10" lengthAdjust="spacingAndGlyphs">PETHEMA</text>
<text x="147.50" y="455.70" font-size="8.5" fill="#1a1a1a" stroke="#1a1a1a" stroke-width="0.28" text-anchor="middle" textLength="14.00" lengthAdjust="spacingAndGlyphs">Trials</text>
<text transform="translate(23.40,347.40) rotate(-90)" x="0" y="0" font-size="8.5" fill="#1a1a1a" stroke="#1a1a1a" stroke-width="0.28" text-anchor="middle" textLength="73.5" lengthAdjust="spacingAndGlyphs">EWALL - prognostic index</text>
<text x="99.00" y="479.10" font-size="7.6" fill="#333" stroke="#333" stroke-width="0.28" text-anchor="start" textLength="25.80" lengthAdjust="spacingAndGlyphs">Relapse</text>
<line x1="137.20" y1="470.10" x2="137.20" y2="482.50" stroke="#555555" stroke-width="1.2"/>
<rect x="132.00" y="473.00" width="10.4" height="6.0" fill="#28a8e0"/>
<line x1="132.00" y1="476.00" x2="142.40" y2="476.00" stroke="#0b3d5c" stroke-width="1.3"/>
<text x="145.40" y="478.90" font-size="7.6" fill="#333" stroke="#333" stroke-width="0.28" text-anchor="start" textLength="10.00" lengthAdjust="spacingAndGlyphs">No</text>
<line x1="176.00" y1="470.10" x2="176.00" y2="482.50" stroke="#555555" stroke-width="1.2"/>
<rect x="170.80" y="473.00" width="10.4" height="6.0" fill="#c8082a"/>
<line x1="170.80" y1="476.00" x2="181.20" y2="476.00" stroke="#6e0414" stroke-width="1.3"/>
<text x="184.70" y="478.90" font-size="7.6" fill="#333" stroke="#333" stroke-width="0.28" text-anchor="start" textLength="11.50" lengthAdjust="spacingAndGlyphs">Yes</text>
<line x1="323.30" y1="330.00" x2="323.30" y2="369.40" stroke="#555555" stroke-width="1.3"/>
<line x1="323.30" y1="398.40" x2="323.30" y2="416.00" stroke="#555555" stroke-width="1.3"/>
<rect x="313.90" y="369.40" width="18.8" height="29.00" fill="#28a8e0"/>
<line x1="313.90" y1="390.20" x2="332.70" y2="390.20" stroke="#0b3d5c" stroke-width="1.9"/>
<line x1="348.30" y1="301.60" x2="348.30" y2="352.40" stroke="#555555" stroke-width="1.3"/>
<line x1="348.30" y1="391.40" x2="348.30" y2="413.40" stroke="#555555" stroke-width="1.3"/>
<rect x="338.90" y="352.40" width="18.8" height="39.00" fill="#c8082a"/>
<line x1="338.90" y1="372.60" x2="357.70" y2="372.60" stroke="#6e0414" stroke-width="1.9"/>
<path d="M323.30,296.60 V293.00 H348.30 V296.60" fill="none" stroke="#3a3a3a" stroke-width="1.1"/>
<text x="335.60" y="287.80" font-size="7.0" fill="#555" stroke="#555" stroke-width="0.28" text-anchor="middle" textLength="28.4" lengthAdjust="spacingAndGlyphs"><tspan font-style="italic">P</tspan> &lt; .001</text>
<line x1="372.83" y1="353.00" x2="372.83" y2="378.40" stroke="#555555" stroke-width="1.3"/>
<line x1="372.83" y1="399.60" x2="372.83" y2="413.00" stroke="#555555" stroke-width="1.3"/>
<rect x="363.43" y="378.40" width="18.8" height="21.20" fill="#28a8e0"/>
<line x1="363.43" y1="393.00" x2="382.23" y2="393.00" stroke="#0b3d5c" stroke-width="1.9"/>
<line x1="397.83" y1="311.40" x2="397.83" y2="353.00" stroke="#555555" stroke-width="1.3"/>
<line x1="397.83" y1="393.00" x2="397.83" y2="402.60" stroke="#555555" stroke-width="1.3"/>
<rect x="388.43" y="353.00" width="18.8" height="40.00" fill="#c8082a"/>
<line x1="388.43" y1="367.00" x2="407.23" y2="367.00" stroke="#6e0414" stroke-width="1.9"/>
<path d="M372.83,296.60 V293.00 H397.83 V296.60" fill="none" stroke="#3a3a3a" stroke-width="1.1"/>
<text x="385.13" y="287.80" font-size="7.0" fill="#555" stroke="#555" stroke-width="0.28" text-anchor="middle" textLength="28.4" lengthAdjust="spacingAndGlyphs"><tspan font-style="italic">P</tspan> = .001</text>
<line x1="422.36" y1="341.60" x2="422.36" y2="376.60" stroke="#555555" stroke-width="1.3"/>
<line x1="422.36" y1="401.60" x2="422.36" y2="413.60" stroke="#555555" stroke-width="1.3"/>
<rect x="412.96" y="376.60" width="18.8" height="25.00" fill="#28a8e0"/>
<line x1="412.96" y1="396.20" x2="431.76" y2="396.20" stroke="#0b3d5c" stroke-width="1.9"/>
<line x1="447.36" y1="349.60" x2="447.36" y2="362.00" stroke="#555555" stroke-width="1.3"/>
<line x1="447.36" y1="401.60" x2="447.36" y2="415.60" stroke="#555555" stroke-width="1.3"/>
<rect x="437.96" y="362.00" width="18.8" height="39.60" fill="#c8082a"/>
<line x1="437.96" y1="391.60" x2="456.76" y2="391.60" stroke="#6e0414" stroke-width="1.9"/>
<path d="M422.36,296.60 V293.00 H447.36 V296.60" fill="none" stroke="#3a3a3a" stroke-width="1.1"/>
<text x="434.66" y="287.80" font-size="7.0" fill="#555" stroke="#555" stroke-width="0.28" text-anchor="middle" textLength="28.4" lengthAdjust="spacingAndGlyphs"><tspan font-style="italic">P</tspan> = .370</text>
<line x1="471.89" y1="316.00" x2="471.89" y2="357.60" stroke="#555555" stroke-width="1.3"/>
<line x1="471.89" y1="385.60" x2="471.89" y2="405.00" stroke="#555555" stroke-width="1.3"/>
<rect x="462.49" y="357.60" width="18.8" height="28.00" fill="#28a8e0"/>
<line x1="462.49" y1="376.80" x2="481.29" y2="376.80" stroke="#0b3d5c" stroke-width="1.9"/>
<line x1="496.89" y1="304.40" x2="496.89" y2="339.40" stroke="#555555" stroke-width="1.3"/>
<line x1="496.89" y1="376.00" x2="496.89" y2="403.60" stroke="#555555" stroke-width="1.3"/>
<rect x="487.49" y="339.40" width="18.8" height="36.60" fill="#c8082a"/>
<line x1="487.49" y1="362.80" x2="506.29" y2="362.80" stroke="#6e0414" stroke-width="1.9"/>
<path d="M471.89,296.60 V293.00 H496.89 V296.60" fill="none" stroke="#3a3a3a" stroke-width="1.1"/>
<text x="484.19" y="287.80" font-size="7.0" fill="#555" stroke="#555" stroke-width="0.28" text-anchor="middle" textLength="28.4" lengthAdjust="spacingAndGlyphs"><tspan font-style="italic">P</tspan> &lt; .001</text>
<line x1="306.40" y1="264.60" x2="306.40" y2="431.00" stroke="#2e2e2e" stroke-width="1.4"/>
<line x1="305.80" y1="430.40" x2="513.60" y2="430.40" stroke="#2e2e2e" stroke-width="1.4"/>
<line x1="303.40" y1="422.70" x2="306.40" y2="422.70" stroke="#2e2e2e" stroke-width="1.1"/>
<text x="300.50" y="425.00" font-size="7.4" fill="#4a4a4a" stroke="#4a4a4a" stroke-width="0.28" text-anchor="end" textLength="3.91" lengthAdjust="spacingAndGlyphs">0</text>
<line x1="303.40" y1="392.30" x2="306.40" y2="392.30" stroke="#2e2e2e" stroke-width="1.1"/>
<text x="300.50" y="394.60" font-size="7.4" fill="#4a4a4a" stroke="#4a4a4a" stroke-width="0.28" text-anchor="end" textLength="3.91" lengthAdjust="spacingAndGlyphs">2</text>
<line x1="303.40" y1="361.90" x2="306.40" y2="361.90" stroke="#2e2e2e" stroke-width="1.1"/>
<text x="300.50" y="364.20" font-size="7.4" fill="#4a4a4a" stroke="#4a4a4a" stroke-width="0.28" text-anchor="end" textLength="3.91" lengthAdjust="spacingAndGlyphs">4</text>
<line x1="303.40" y1="331.50" x2="306.40" y2="331.50" stroke="#2e2e2e" stroke-width="1.1"/>
<text x="300.50" y="333.80" font-size="7.4" fill="#4a4a4a" stroke="#4a4a4a" stroke-width="0.28" text-anchor="end" textLength="3.91" lengthAdjust="spacingAndGlyphs">6</text>
<line x1="303.40" y1="301.10" x2="306.40" y2="301.10" stroke="#2e2e2e" stroke-width="1.1"/>
<text x="300.50" y="303.40" font-size="7.4" fill="#4a4a4a" stroke="#4a4a4a" stroke-width="0.28" text-anchor="end" textLength="3.91" lengthAdjust="spacingAndGlyphs">8</text>
<line x1="303.40" y1="270.70" x2="306.40" y2="270.70" stroke="#2e2e2e" stroke-width="1.1"/>
<text x="300.50" y="273.00" font-size="7.4" fill="#4a4a4a" stroke="#4a4a4a" stroke-width="0.28" text-anchor="end" textLength="7.82" lengthAdjust="spacingAndGlyphs">10</text>
<line x1="335.80" y1="430.40" x2="335.80" y2="433.40" stroke="#2e2e2e" stroke-width="1.1"/>
<text x="335.65" y="443.30" font-size="8.0" fill="#4a4a4a" stroke="#4a4a4a" stroke-width="0.28" text-anchor="middle" textLength="23.10" lengthAdjust="spacingAndGlyphs">UKALL</text>
<line x1="385.33" y1="430.40" x2="385.33" y2="433.40" stroke="#2e2e2e" stroke-width="1.1"/>
<text x="385.18" y="443.30" font-size="8.0" fill="#4a4a4a" stroke="#4a4a4a" stroke-width="0.28" text-anchor="middle" textLength="17.50" lengthAdjust="spacingAndGlyphs">NILG</text>
<line x1="434.86" y1="430.40" x2="434.86" y2="433.40" stroke="#2e2e2e" stroke-width="1.1"/>
<text x="434.71" y="443.30" font-size="8.0" fill="#4a4a4a" stroke="#4a4a4a" stroke-width="0.28" text-anchor="middle" textLength="31.00" lengthAdjust="spacingAndGlyphs">GIMEMA</text>
<line x1="484.39" y1="430.40" x2="484.39" y2="433.40" stroke="#2e2e2e" stroke-width="1.1"/>
<text x="484.24" y="443.30" font-size="8.0" fill="#4a4a4a" stroke="#4a4a4a" stroke-width="0.28" text-anchor="middle" textLength="35.10" lengthAdjust="spacingAndGlyphs">PETHEMA</text>
<text x="410.00" y="455.70" font-size="8.5" fill="#1a1a1a" stroke="#1a1a1a" stroke-width="0.28" text-anchor="middle" textLength="14.00" lengthAdjust="spacingAndGlyphs">Trials</text>
<text transform="translate(286.00,347.40) rotate(-90)" x="0" y="0" font-size="8.5" fill="#1a1a1a" stroke="#1a1a1a" stroke-width="0.28" text-anchor="middle" textLength="73.5" lengthAdjust="spacingAndGlyphs">EWALL - prognostic index</text>
<line x1="380.20" y1="470.10" x2="380.20" y2="482.50" stroke="#555555" stroke-width="1.2"/>
<rect x="375.00" y="473.00" width="10.4" height="6.0" fill="#28a8e0"/>
<line x1="375.00" y1="476.00" x2="385.40" y2="476.00" stroke="#0b3d5c" stroke-width="1.3"/>
<text x="389.20" y="478.90" font-size="7.6" fill="#333" stroke="#333" stroke-width="0.28" text-anchor="start" textLength="15.40" lengthAdjust="spacingAndGlyphs">Alive</text>
<line x1="419.40" y1="470.10" x2="419.40" y2="482.50" stroke="#555555" stroke-width="1.2"/>
<rect x="414.20" y="473.00" width="10.4" height="6.0" fill="#c8082a"/>
<line x1="414.20" y1="476.00" x2="424.60" y2="476.00" stroke="#6e0414" stroke-width="1.3"/>
<text x="427.70" y="478.90" font-size="7.6" fill="#333" stroke="#333" stroke-width="0.28" text-anchor="start" textLength="17.90" lengthAdjust="spacingAndGlyphs">Dead</text>
</g>
<rect x="0" y="0" width="520" height="1" fill="#666"/>
<rect x="0" y="0" width="1" height="489" fill="#6e6e6e"/>
<rect x="518.8" y="0" width="1.2" height="489" fill="#555"/>
<rect x="0" y="487.8" width="520" height="1.2" fill="#555"/>
</svg>
</body></html>
